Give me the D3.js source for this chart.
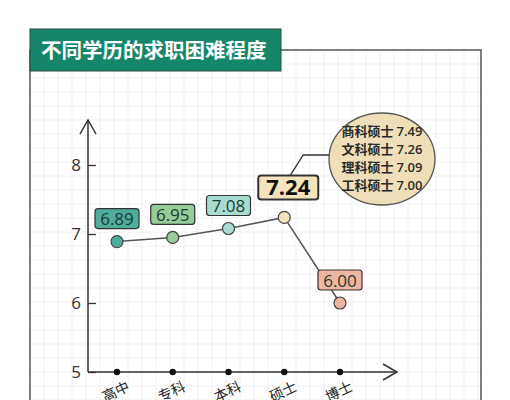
<!DOCTYPE html>
<html lang="zh">
  <head>
    <meta charset="UTF-8" />
    <title>不同学历的求职困难程度</title>
    <style>
      body { margin: 0; background: #fff; }
      svg { display: block; }
      .num { font-family: "Open Sans", "Noto Sans", sans-serif; }
      .cjk { font-family: "Noto Sans CJK SC", sans-serif; }
    </style>
  </head>
  <body>
    <script src="https://cdn.jsdelivr.net/npm/d3@7"></script>
    <script>
      // data
      var levels = ["高中", "专科", "本科", "硕士", "博士"];
      var scores = [6.89, 6.95, 7.08, 7.24, 6.00];
      var pointColors = ["#4fae9b", "#94cd98", "#a8dcd1", "#f3e4bc", "#eeb6a0"];
      var masterTypes = ["商科硕士", "文科硕士", "理科硕士", "工科硕士"];
      var masterScores = [7.49, 7.26, 7.09, 7.00];
      var yTicks = [5, 6, 7, 8];

      var W = 510, H = 400;
      var svg = d3.select("body").append("svg")
                  .attr("width", W)
                  .attr("height", H);

//frame + grid
      var frame = { x0: 30, y0: 50, x1: 481, y1: 402 };
      var grid = svg.append("g").attr("stroke", "#f1f1f1").attr("stroke-width", 1);
      grid.selectAll(".gv")
          .data(d3.range(frame.x0 + 14, frame.x1, 14))
          .enter().append("line")
          .attr("x1", function(d) { return d; }).attr("x2", function(d) { return d; })
          .attr("y1", frame.y0).attr("y2", frame.y1);
      grid.selectAll(".gh")
          .data(d3.range(frame.y0 + 14, frame.y1, 14))
          .enter().append("line")
          .attr("y1", function(d) { return d; }).attr("y2", function(d) { return d; })
          .attr("x1", frame.x0).attr("x2", frame.x1);

      svg.append("rect")
         .attr("x", frame.x0).attr("y", frame.y0)
         .attr("width", frame.x1 - frame.x0).attr("height", frame.y1 - frame.y0)
         .attr("fill", "none").attr("stroke", "#555").attr("stroke-width", 1.5);

//title
      svg.append("rect")
         .attr("x", 30).attr("y", 29).attr("width", 251).attr("height", 42)
         .attr("fill", "#16866a").attr("stroke", "#2b4a3f").attr("stroke-width", 1);
      svg.append("text")
         .attr("class", "cjk")
         .attr("x", 41).attr("y", 58)
         .attr("fill", "#fff")
         .attr("font-size", 20.5).attr("font-weight", "bold")
         .text("不同学历的求职困难程度");

//scales
      var xScale = d3.scalePoint().domain(levels).range([117, 340]);
      var yScale = d3.scaleLinear().domain([5, 8]).range([372, 165]);
      var ax = 88, ay = yScale(5);

//axes
      var yAxis = d3.axisLeft(yScale)
                    .tickValues(yTicks)
                    .tickFormat(d3.format("d"))
                    .tickSizeInner(-8)
                    .tickSizeOuter(0)
                    .tickPadding(7);
      var gy = svg.append("g")
         .attr("transform", "translate(" + ax + ",0)")
         .call(yAxis);
      gy.select(".domain").remove();
      gy.selectAll(".tick line").attr("stroke", "#333").attr("stroke-width", 1.3);
      gy.selectAll(".tick text")
        .attr("class", "num")
        .style("font-size", "17px").attr("fill", "#333");

      var axisStyle = { stroke: "#333", width: 1.5 };
      svg.append("line")
         .attr("x1", ax).attr("x2", ax).attr("y1", ay).attr("y2", 120)
         .attr("stroke", axisStyle.stroke).attr("stroke-width", axisStyle.width);
      svg.append("path")
         .attr("d", "M" + (ax - 8) + "," + 134 + "L" + ax + "," + 120 + "L" + (ax + 8) + "," + 134)
         .attr("fill", "none").attr("stroke", axisStyle.stroke).attr("stroke-width", axisStyle.width);
      svg.append("line")
         .attr("x1", ax).attr("x2", 397).attr("y1", ay).attr("y2", ay)
         .attr("stroke", axisStyle.stroke).attr("stroke-width", axisStyle.width);
      svg.append("path")
         .attr("d", "M383," + (ay - 8) + "L397," + ay + "L383," + (ay + 8))
         .attr("fill", "none").attr("stroke", axisStyle.stroke).attr("stroke-width", axisStyle.width);

      svg.selectAll(".xdot")
         .data(levels).enter().append("circle")
         .attr("cx", function(d) { return xScale(d); })
         .attr("cy", ay).attr("r", 3.2).attr("fill", "#111");
      svg.selectAll(".xlab")
         .data(levels).enter().append("text")
         .attr("class", "cjk")
         .attr("text-anchor", "middle")
         .attr("font-size", 14).attr("fill", "#222")
         .attr("transform", function(d) {
           return "translate(" + (xScale(d) + 1) + "," + (ay + 24) + ")rotate(-25)";
         })
         .text(function(d) { return d; });

//line + points
      var pts = levels.map(function(d, i) { return [xScale(d), yScale(scores[i])]; });
      svg.append("path")
         .attr("d", d3.line()(pts))
         .attr("fill", "none").attr("stroke", "#555").attr("stroke-width", 1.5);

      svg.selectAll(".pt")
         .data(pts).enter().append("circle")
         .attr("cx", function(d) { return d[0]; })
         .attr("cy", function(d) { return d[1]; })
         .attr("r", 6)
         .attr("fill", function(d, i) { return pointColors[i]; })
         .attr("stroke", "#444").attr("stroke-width", 1.2);

//master callout (behind its box)
      var mIdx = 3;
      var bx = pts[mIdx][0] + 4, by = pts[mIdx][1] - 18;
      svg.append("path")
         .attr("d", "M" + (bx + 2) + "," + (by - 24) + "L" + (bx + 15) + "," + 155 + "L330,155")
         .attr("fill", "none").attr("stroke", "#333").attr("stroke-width", 1.3);
      svg.append("ellipse")
         .attr("cx", 382).attr("cy", 159).attr("rx", 53).attr("ry", 46)
         .attr("fill", "#eedfb8").attr("stroke", "#555").attr("stroke-width", 1.3);
      svg.selectAll(".mt")
         .data(masterTypes).enter().append("text")
         .attr("text-anchor", "middle")
         .attr("x", 382)
         .attr("y", function(d, i) { return 136 + i * 18; })
         .attr("font-size", 13).attr("font-weight", "bold").attr("fill", "#2a2a2a")
         .each(function(d, i) {
           var t = d3.select(this);
           t.append("tspan").attr("class", "cjk").attr("font-weight", "bold").text(d + " ");
           t.append("tspan").attr("class", "num").attr("font-weight", 600).text(masterScores[i].toFixed(2));
         });

//value labels
      levels.forEach(function(d, i) {
        var big = i === mIdx;
        var w = big ? 60 : 44, h = big ? 24 : 20;
        var cx = pts[i][0] + (big ? 4 : 0);
        var bottom = pts[i][1] - (big ? 18 : 13);
        svg.append("rect")
           .attr("x", cx - w / 2).attr("y", bottom - h)
           .attr("width", w).attr("height", h)
           .attr("rx", 3)
           .attr("fill", pointColors[i])
           .attr("stroke", "#333").attr("stroke-width", big ? 2 : 1.2);
        svg.append("text")
           .attr("class", "num")
           .attr("text-anchor", "middle")
           .attr("x", cx).attr("y", bottom - h / 2 + (big ? 8 : 6.5))
           .attr("font-size", big ? 22 : 17)
           .attr("font-weight", big ? "bold" : "normal")
           .attr("fill", big ? "#111" : "#1e3a33")
           .text(scores[i].toFixed(2));
      });
    </script>
  </body>
</html>
